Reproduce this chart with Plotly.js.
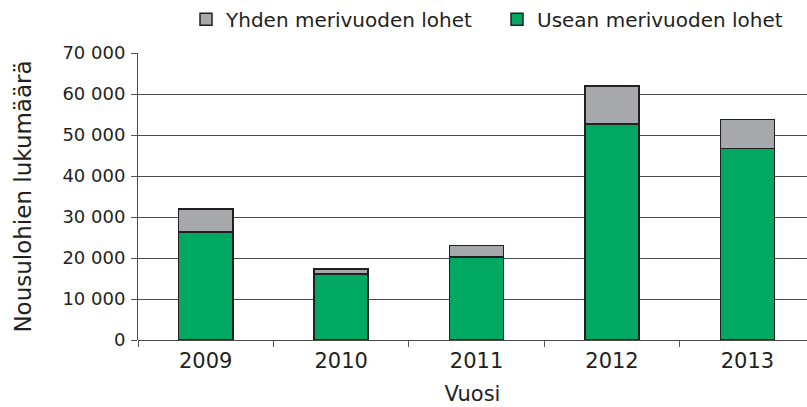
<!DOCTYPE html>
<html>
<head>
<meta charset="utf-8">
<script src="https://cdn.plot.ly/plotly-3.0.1.min.js"></script>
<style>html,body{margin:0;padding:0;background:#fff;}#chart{width:807px;height:407px;}</style>
</head>
<body>
<div id="chart"></div>
<script>
const years = ['2009', '2010', '2011', '2012', '2013'];
const useanMerivuoden = [26400, 16100, 20200, 52700, 46700];
const yhdenMerivuoden = [5500, 1200, 2900, 9200, 7100];
const seriesNames = ['Usean merivuoden lohet', 'Yhden merivuoden lohet'];
const yTickVals = [0, 10000, 20000, 30000, 40000, 50000, 60000, 70000];

const FONT = 'DejaVu Sans, Verdana, sans-serif';
const edge = {color: '#231f20', width: 1.5};

const traces = [
  {type: 'bar', name: seriesNames[0], x: years, y: useanMerivuoden,
   marker: {color: '#00a862', line: edge}},
  {type: 'bar', name: seriesNames[1], x: years, y: yhdenMerivuoden,
   marker: {color: '#a7a8ac', line: edge}}
];

const layout = {
  width: 807, height: 407,
  margin: {l: 138, r: 0, t: 53, b: 67, autoexpand: false},
  paper_bgcolor: '#fff', plot_bgcolor: '#fff',
  barmode: 'stack', bargap: 0.6,
  separators: ', ',
  font: {family: FONT, size: 18, color: '#231f20'},
  showlegend: true,
  legend: {orientation: 'h', traceorder: 'reversed', x: (186 - 138) / 669, xanchor: 'left',
           y: 1.118, yanchor: 'middle', font: {size: 20}, itemwidth: 30,
           entrywidthmode: 'pixels', entrywidth: 266},
  xaxis: {type: 'category', range: [-0.5, 4.44], tickson: 'boundaries',
          ticks: 'outside', ticklen: 6, tickcolor: '#555', showline: false,
          showgrid: false, zeroline: false, tickfont: {size: 21}, ticklabelstandoff: 6,
          title: {text: 'Vuosi', font: {size: 21}, standoff: 14}},
  yaxis: {range: [0, 70000], tickvals: yTickVals, tickformat: ',d',
          ticks: 'outside', ticklen: 6, tickcolor: '#555',
          showline: true, linecolor: '#4a4a4a', linewidth: 1,
          showgrid: true, gridcolor: '#4a4a4a', gridwidth: 1,
          zeroline: true, zerolinecolor: '#4a4a4a', zerolinewidth: 1,
          tickfont: {size: 18}, ticklabelstandoff: 2,
          title: {text: 'Nousulohien lukumäärä', font: {size: 23}, standoff: 24}}
};

Plotly.newPlot('chart', traces, layout, {displayModeBar: false, staticPlot: true});
</script>
</body>
</html>
